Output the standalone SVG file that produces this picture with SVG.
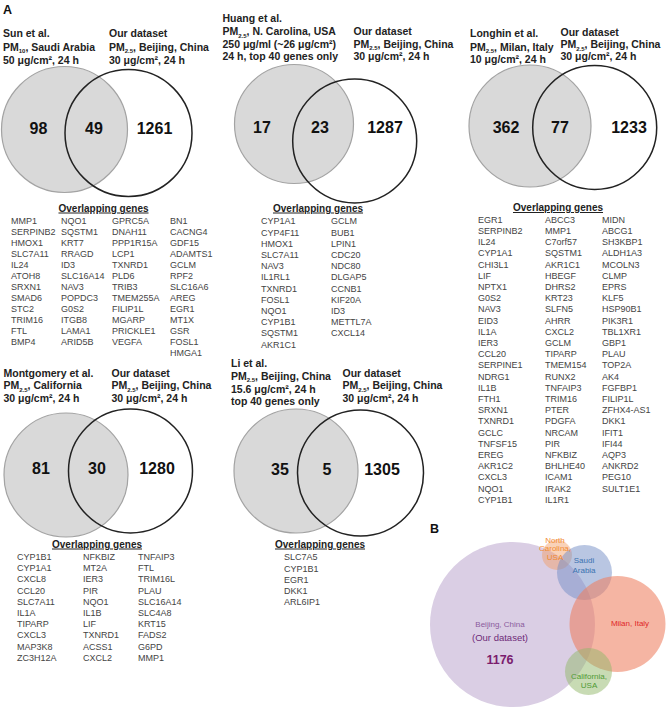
<svg xmlns="http://www.w3.org/2000/svg" width="667" height="708" viewBox="0 0 667 708">
<style>
text{font-family:"Liberation Sans",Arial,sans-serif}
.lbl{font-weight:bold;font-size:12.5px;fill:#111}
.hd{font-weight:bold;font-size:10.5px;fill:#222}
.sub{font-size:6px}
.num{font-weight:bold;font-size:16px;fill:#111;text-anchor:middle}
.og{font-weight:bold;font-size:10px;fill:#222;text-anchor:middle;text-decoration:underline}
.gn{font-size:9px;fill:#444}
.gray{fill:#d9d9d9;stroke:#a3a3a3;stroke-width:1.2}
.wht{fill:none;stroke:#222;stroke-width:1.5}
.bt{font-size:8px;text-anchor:middle}
</style>
<rect width="667" height="708" fill="#fff"/>
<text class="lbl" x="3" y="14">A</text>
<text class="lbl" x="430" y="533">B</text>

<g id="venn-sun">
<circle class="gray" cx="64.5" cy="129.5" r="63"/>
<circle class="wht" cx="128.5" cy="133" r="63.5"/>
<text class="hd" x="3" y="37">Sun et al.</text>
<text class="hd" x="3" y="50.5">PM<tspan class="sub" dy="2.5">10</tspan><tspan dy="-2.5">, Saudi Arabia</tspan></text>
<text class="hd" x="3" y="63.5">50 μg/cm², 24 h</text>
<text class="hd" x="109" y="37">Our dataset</text>
<text class="hd" x="109" y="50.5">PM<tspan class="sub" dy="2.5">2.5</tspan><tspan dy="-2.5">, Beijing, China</tspan></text>
<text class="hd" x="109" y="63.5">30 μg/cm², 24 h</text>
<text class="num" x="38.5" y="134">98</text>
<text class="num" x="94" y="134">49</text>
<text class="num" x="154.5" y="134">1261</text>
</g>
<g id="genes-sun">
<text class="og" x="103.5" y="211.5">Overlapping genes</text>
<text class="gn" y="224"><tspan x="11">MMP1</tspan><tspan x="11" dy="11">SERPINB2</tspan><tspan x="11" dy="11">HMOX1</tspan><tspan x="11" dy="11">SLC7A11</tspan><tspan x="11" dy="11">IL24</tspan><tspan x="11" dy="11">ATOH8</tspan><tspan x="11" dy="11">SRXN1</tspan><tspan x="11" dy="11">SMAD6</tspan><tspan x="11" dy="11">STC2</tspan><tspan x="11" dy="11">TRIM16</tspan><tspan x="11" dy="11">FTL</tspan><tspan x="11" dy="11">BMP4</tspan></text>
<text class="gn" y="224"><tspan x="61">NQO1</tspan><tspan x="61" dy="11">SQSTM1</tspan><tspan x="61" dy="11">KRT7</tspan><tspan x="61" dy="11">RRAGD</tspan><tspan x="61" dy="11">ID3</tspan><tspan x="61" dy="11">SLC16A14</tspan><tspan x="61" dy="11">NAV3</tspan><tspan x="61" dy="11">POPDC3</tspan><tspan x="61" dy="11">G0S2</tspan><tspan x="61" dy="11">ITGB8</tspan><tspan x="61" dy="11">LAMA1</tspan><tspan x="61" dy="11">ARID5B</tspan></text>
<text class="gn" y="224"><tspan x="112">GPRC5A</tspan><tspan x="112" dy="11">DNAH11</tspan><tspan x="112" dy="11">PPP1R15A</tspan><tspan x="112" dy="11">LCP1</tspan><tspan x="112" dy="11">TXNRD1</tspan><tspan x="112" dy="11">PLD6</tspan><tspan x="112" dy="11">TRIB3</tspan><tspan x="112" dy="11">TMEM255A</tspan><tspan x="112" dy="11">FILIP1L</tspan><tspan x="112" dy="11">MGARP</tspan><tspan x="112" dy="11">PRICKLE1</tspan><tspan x="112" dy="11">VEGFA</tspan></text>
<text class="gn" y="224"><tspan x="170">BN1</tspan><tspan x="170" dy="11">CACNG4</tspan><tspan x="170" dy="11">GDF15</tspan><tspan x="170" dy="11">ADAMTS1</tspan><tspan x="170" dy="11">GCLM</tspan><tspan x="170" dy="11">RPF2</tspan><tspan x="170" dy="11">SLC16A6</tspan><tspan x="170" dy="11">AREG</tspan><tspan x="170" dy="11">EGR1</tspan><tspan x="170" dy="11">MT1X</tspan><tspan x="170" dy="11">GSR</tspan><tspan x="170" dy="11">FOSL1</tspan><tspan x="170" dy="11">HMGA1</tspan></text>
</g>

<g id="venn-huang">
<circle class="gray" cx="294" cy="124" r="59.5"/>
<circle class="wht" cx="354.7" cy="141" r="62"/>
<text class="hd" x="222.5" y="22">Huang et al.</text>
<text class="hd" x="222.5" y="35">PM<tspan class="sub" dy="2.5">2.5</tspan><tspan dy="-2.5">, N. Carolina, USA</tspan></text>
<text class="hd" x="222.5" y="47.5">250 μg/ml (~26 μg/cm²)</text>
<text class="hd" x="222.5" y="60">24 h, top 40 genes only</text>
<text class="hd" x="353.5" y="35">Our dataset</text>
<text class="hd" x="353.5" y="47.5">PM<tspan class="sub" dy="2.5">2.5</tspan><tspan dy="-2.5">, Beijing, China</tspan></text>
<text class="hd" x="353.5" y="60">30 μg/cm², 24 h</text>
<text class="num" x="262" y="132.5">17</text>
<text class="num" x="320" y="132.5">23</text>
<text class="num" x="385" y="132.5">1287</text>
</g>
<g id="genes-huang">
<text class="og" x="318" y="211.5">Overlapping genes</text>
<text class="gn" y="224.3"><tspan x="261">CYP1A1</tspan><tspan x="261" dy="11.2">CYP4F11</tspan><tspan x="261" dy="11.2">HMOX1</tspan><tspan x="261" dy="11.2">SLC7A11</tspan><tspan x="261" dy="11.2">NAV3</tspan><tspan x="261" dy="11.2">IL1RL1</tspan><tspan x="261" dy="11.2">TXNRD1</tspan><tspan x="261" dy="11.2">FOSL1</tspan><tspan x="261" dy="11.2">NQO1</tspan><tspan x="261" dy="11.2">CYP1B1</tspan><tspan x="261" dy="11.2">SQSTM1</tspan><tspan x="261" dy="11.2">AKR1C1</tspan></text>
<text class="gn" y="224.3"><tspan x="331">GCLM</tspan><tspan x="331" dy="11.2">BUB1</tspan><tspan x="331" dy="11.2">LPIN1</tspan><tspan x="331" dy="11.2">CDC20</tspan><tspan x="331" dy="11.2">NDC80</tspan><tspan x="331" dy="11.2">DLGAP5</tspan><tspan x="331" dy="11.2">CCNB1</tspan><tspan x="331" dy="11.2">KIF20A</tspan><tspan x="331" dy="11.2">ID3</tspan><tspan x="331" dy="11.2">METTL7A</tspan><tspan x="331" dy="11.2">CXCL14</tspan></text>
</g>

<g id="venn-longhin">
<circle class="gray" cx="530" cy="126" r="61"/>
<circle class="wht" cx="594.7" cy="127.5" r="62"/>
<text class="hd" x="470" y="37">Longhin et al.</text>
<text class="hd" x="470" y="50.5">PM<tspan class="sub" dy="2.5">2.5</tspan><tspan dy="-2.5">, Milan, Italy</tspan></text>
<text class="hd" x="470" y="62.5">10 μg/cm², 24 h</text>
<text class="hd" x="560.5" y="35.5">Our dataset</text>
<text class="hd" x="560.5" y="48">PM<tspan class="sub" dy="2.5">2.5</tspan><tspan dy="-2.5">, Beijing, China</tspan></text>
<text class="hd" x="560.5" y="60">30 μg/cm², 24 h</text>
<text class="num" x="506" y="132.5">362</text>
<text class="num" x="560" y="132.5">77</text>
<text class="num" x="629" y="132.5">1233</text>
</g>
<g id="genes-longhin">
<text class="og" x="558" y="211">Overlapping genes</text>
<text class="gn" y="222.8"><tspan x="478">EGR1</tspan><tspan x="478" dy="11.2">SERPINB2</tspan><tspan x="478" dy="11.2">IL24</tspan><tspan x="478" dy="11.2">CYP1A1</tspan><tspan x="478" dy="11.2">CHI3L1</tspan><tspan x="478" dy="11.2">LIF</tspan><tspan x="478" dy="11.2">NPTX1</tspan><tspan x="478" dy="11.2">G0S2</tspan><tspan x="478" dy="11.2">NAV3</tspan><tspan x="478" dy="11.2">EID3</tspan><tspan x="478" dy="11.2">IL1A</tspan><tspan x="478" dy="11.2">IER3</tspan><tspan x="478" dy="11.2">CCL20</tspan><tspan x="478" dy="11.2">SERPINE1</tspan><tspan x="478" dy="11.2">NDRG1</tspan><tspan x="478" dy="11.2">IL1B</tspan><tspan x="478" dy="11.2">FTH1</tspan><tspan x="478" dy="11.2">SRXN1</tspan><tspan x="478" dy="11.2">TXNRD1</tspan><tspan x="478" dy="11.2">GCLC</tspan><tspan x="478" dy="11.2">TNFSF15</tspan><tspan x="478" dy="11.2">EREG</tspan><tspan x="478" dy="11.2">AKR1C2</tspan><tspan x="478" dy="11.2">CXCL3</tspan><tspan x="478" dy="11.2">NQO1</tspan><tspan x="478" dy="11.2">CYP1B1</tspan></text>
<text class="gn" y="222.8"><tspan x="545">ABCC3</tspan><tspan x="545" dy="11.2">MMP1</tspan><tspan x="545" dy="11.2">C7orf57</tspan><tspan x="545" dy="11.2">SQSTM1</tspan><tspan x="545" dy="11.2">AKR1C1</tspan><tspan x="545" dy="11.2">HBEGF</tspan><tspan x="545" dy="11.2">DHRS2</tspan><tspan x="545" dy="11.2">KRT23</tspan><tspan x="545" dy="11.2">SLFN5</tspan><tspan x="545" dy="11.2">AHRR</tspan><tspan x="545" dy="11.2">CXCL2</tspan><tspan x="545" dy="11.2">GCLM</tspan><tspan x="545" dy="11.2">TIPARP</tspan><tspan x="545" dy="11.2">TMEM154</tspan><tspan x="545" dy="11.2">RUNX2</tspan><tspan x="545" dy="11.2">TNFAIP3</tspan><tspan x="545" dy="11.2">TRIM16</tspan><tspan x="545" dy="11.2">PTER</tspan><tspan x="545" dy="11.2">PDGFA</tspan><tspan x="545" dy="11.2">NRCAM</tspan><tspan x="545" dy="11.2">PIR</tspan><tspan x="545" dy="11.2">NFKBIZ</tspan><tspan x="545" dy="11.2">BHLHE40</tspan><tspan x="545" dy="11.2">ICAM1</tspan><tspan x="545" dy="11.2">IRAK2</tspan><tspan x="545" dy="11.2">IL1R1</tspan></text>
<text class="gn" y="222.8"><tspan x="602">MIDN</tspan><tspan x="602" dy="11.2">ABCG1</tspan><tspan x="602" dy="11.2">SH3KBP1</tspan><tspan x="602" dy="11.2">ALDH1A3</tspan><tspan x="602" dy="11.2">MCOLN3</tspan><tspan x="602" dy="11.2">CLMP</tspan><tspan x="602" dy="11.2">EPRS</tspan><tspan x="602" dy="11.2">KLF5</tspan><tspan x="602" dy="11.2">HSP90B1</tspan><tspan x="602" dy="11.2">PIK3R1</tspan><tspan x="602" dy="11.2">TBL1XR1</tspan><tspan x="602" dy="11.2">GBP1</tspan><tspan x="602" dy="11.2">PLAU</tspan><tspan x="602" dy="11.2">TOP2A</tspan><tspan x="602" dy="11.2">AK4</tspan><tspan x="602" dy="11.2">FGFBP1</tspan><tspan x="602" dy="11.2">FILIP1L</tspan><tspan x="602" dy="11.2">ZFHX4-AS1</tspan><tspan x="602" dy="11.2">DKK1</tspan><tspan x="602" dy="11.2">IFIT1</tspan><tspan x="602" dy="11.2">IFI44</tspan><tspan x="602" dy="11.2">AQP3</tspan><tspan x="602" dy="11.2">ANKRD2</tspan><tspan x="602" dy="11.2">PEG10</tspan><tspan x="602" dy="11.2">SULT1E1</tspan></text>
</g>

<g id="venn-montgomery">
<circle class="gray" cx="66" cy="475" r="62"/>
<circle class="wht" cx="130.5" cy="471" r="62"/>
<text class="hd" x="3.5" y="376.5">Montgomery et al.</text>
<text class="hd" x="3.5" y="389">PM<tspan class="sub" dy="2.5">2.5</tspan><tspan dy="-2.5">, California</tspan></text>
<text class="hd" x="3.5" y="402">30 μg/cm², 24 h</text>
<text class="hd" x="111.5" y="376.5">Our dataset</text>
<text class="hd" x="111.5" y="389">PM<tspan class="sub" dy="2.5">2.5</tspan><tspan dy="-2.5">, Beijing, China</tspan></text>
<text class="hd" x="111.5" y="402">30 μg/cm², 24 h</text>
<text class="num" x="41" y="474">81</text>
<text class="num" x="97" y="474">30</text>
<text class="num" x="157" y="474">1280</text>
</g>
<g id="genes-montgomery">
<text class="og" x="97" y="547.5">Overlapping genes</text>
<text class="gn" y="560"><tspan x="17">CYP1B1</tspan><tspan x="17" dy="11.2">CYP1A1</tspan><tspan x="17" dy="11.2">CXCL8</tspan><tspan x="17" dy="11.2">CCL20</tspan><tspan x="17" dy="11.2">SLC7A11</tspan><tspan x="17" dy="11.2">IL1A</tspan><tspan x="17" dy="11.2">TIPARP</tspan><tspan x="17" dy="11.2">CXCL3</tspan><tspan x="17" dy="11.2">MAP3K8</tspan><tspan x="17" dy="11.2">ZC3H12A</tspan></text>
<text class="gn" y="560"><tspan x="83">NFKBIZ</tspan><tspan x="83" dy="11.2">MT2A</tspan><tspan x="83" dy="11.2">IER3</tspan><tspan x="83" dy="11.2">PIR</tspan><tspan x="83" dy="11.2">NQO1</tspan><tspan x="83" dy="11.2">IL1B</tspan><tspan x="83" dy="11.2">LIF</tspan><tspan x="83" dy="11.2">TXNRD1</tspan><tspan x="83" dy="11.2">ACSS1</tspan><tspan x="83" dy="11.2">CXCL2</tspan></text>
<text class="gn" y="560"><tspan x="138">TNFAIP3</tspan><tspan x="138" dy="11.2">FTL</tspan><tspan x="138" dy="11.2">TRIM16L</tspan><tspan x="138" dy="11.2">PLAU</tspan><tspan x="138" dy="11.2">SLC16A14</tspan><tspan x="138" dy="11.2">SLC4A8</tspan><tspan x="138" dy="11.2">KRT15</tspan><tspan x="138" dy="11.2">FADS2</tspan><tspan x="138" dy="11.2">G6PD</tspan><tspan x="138" dy="11.2">MMP1</tspan></text>
</g>

<g id="venn-li">
<circle class="gray" cx="296" cy="471" r="62"/>
<circle class="wht" cx="360.5" cy="473" r="63"/>
<text class="hd" x="231" y="367">Li et al.</text>
<text class="hd" x="231" y="379.5">PM<tspan class="sub" dy="2.5">2.5</tspan><tspan dy="-2.5">, Beijing, China</tspan></text>
<text class="hd" x="231" y="392.5">15.6 μg/cm², 24 h</text>
<text class="hd" x="231" y="405">top 40 genes only</text>
<text class="hd" x="342.5" y="376.5">Our dataset</text>
<text class="hd" x="342.5" y="389">PM<tspan class="sub" dy="2.5">2.5</tspan><tspan dy="-2.5">, Beijing, China</tspan></text>
<text class="hd" x="342.5" y="402">30 μg/cm², 24 h</text>
<text class="num" x="280" y="474.5">35</text>
<text class="num" x="327" y="474.5">5</text>
<text class="num" x="382" y="474.5">1305</text>
</g>
<g id="genes-li">
<text class="og" x="320" y="547.5">Overlapping genes</text>
<text class="gn" y="560.3"><tspan x="284">SLC7A5</tspan><tspan x="284" dy="11.2">CYP1B1</tspan><tspan x="284" dy="11.2">EGR1</tspan><tspan x="284" dy="11.2">DKK1</tspan><tspan x="284" dy="11.2">ARL6IP1</tspan></text>
</g>

<g id="panel-b">
<g id="beijing">
<circle cx="512.5" cy="624.5" r="82.5" fill="#dacee4"/>
</g>
<g id="north-carolina">
<circle cx="557" cy="555" r="15" fill="#f19b61" fill-opacity="0.45"/>
</g>
<g id="saudi-arabia">
<circle cx="584.5" cy="572.5" r="27.5" fill="#738dc5" fill-opacity="0.5"/>
</g>
<g id="milan">
<circle cx="617.5" cy="624" r="48" fill="#ed8061" fill-opacity="0.58"/>
</g>
<g id="california">
<circle cx="588.5" cy="671.5" r="23.5" fill="#91b769" fill-opacity="0.5"/>
</g>
<text class="bt" x="500" y="627" fill="#8a5b9c">Beijing, China</text>
<text class="bt" x="500" y="640.5" fill="#6e2a78" style="font-size:9.5px">(Our dataset)</text>
<text class="bt" x="500" y="663.5" fill="#7b1c6e" style="font-size:12.5px;font-weight:bold">1176</text>
<text class="bt" x="555" y="542.5" fill="#f28a30"><tspan x="555">North</tspan><tspan x="555" dy="8.8">Carolina,</tspan><tspan x="555" dy="8.8">USA</tspan></text>
<text class="bt" x="584" y="563" fill="#3a72b0"><tspan x="584">Saudi</tspan><tspan x="584" dy="9.8">Arabia</tspan></text>
<text class="bt" x="630" y="626" fill="#e02828">Milan, Italy</text>
<text class="bt" x="589" y="679" fill="#4f9a35"><tspan x="589">California,</tspan><tspan x="589" dy="8.5">USA</tspan></text>
</g>
</svg>
